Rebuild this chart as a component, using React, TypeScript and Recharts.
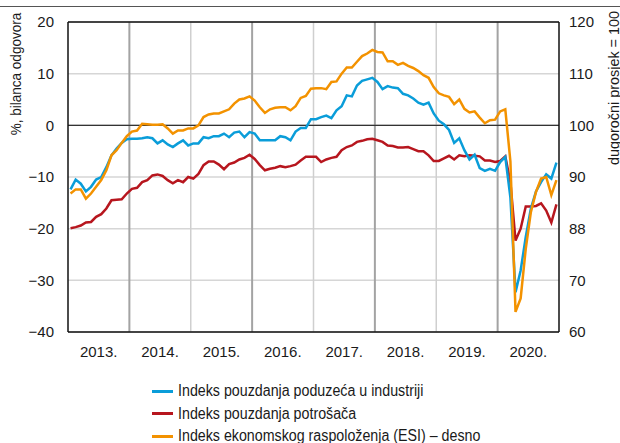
import { LineChart, Line, XAxis, YAxis, CartesianGrid, ReferenceLine } from 'recharts';

// monthly values, Jan 2013 - Dec 2020
const years = ['2013.', '2014.', '2015.', '2016.', '2017.', '2018.', '2019.', '2020.'];

const industry = [
  -12.4, -10.5, -11.3, -12.8, -11.9, -10.5, -10.0, -8.1, -5.8, -4.5, -3.4, -2.7,
  -2.6, -2.6, -2.5, -2.3, -2.5, -3.5, -2.9, -3.7, -4.2, -3.5, -2.9, -3.9,
  -3.5, -3.5, -2.3, -2.5, -2.1, -2.1, -1.6, -2.3, -1.4, -1.2, -2.3, -1.3,
  -1.6, -2.9, -2.9, -2.9, -2.9, -2.1, -2.3, -2.9, -1.2, -0.5, -0.5, 1.2,
  1.2, 1.6, 1.9, 1.4, 2.9, 3.7, 5.8, 5.6, 7.7, 8.6, 8.9, 9.2,
  8.4, 7.0, 7.6, 7.3, 7.2, 6.1, 5.8, 5.2, 4.4, 4.0, 4.4, 2.3,
  0.9, 0.2, -0.9, -3.4, -2.5, -4.8, -6.6, -5.7, -8.3, -8.8, -8.4, -8.8,
  -7.1, -6.1, -14.0, -32.3, -28.1, -21.6, -16.1, -12.8, -11.0, -9.5, -10.3, -7.2,
];

const consumers = [
  -19.9, -19.7, -19.4, -18.8, -18.7, -17.7, -17.2, -16.1, -14.5, -14.4, -14.3, -13.2,
  -12.3, -12.1, -11.0, -10.6, -9.7, -9.5, -9.8, -10.6, -11.2, -10.6, -11.0, -10.0,
  -10.3, -9.4, -7.7, -7.0, -7.0, -7.6, -8.5, -7.5, -7.2, -6.6, -6.3, -5.7,
  -6.5, -7.7, -8.7, -8.4, -8.2, -7.9, -8.1, -7.9, -7.6, -6.8, -6.1, -6.1,
  -6.1, -7.1, -6.6, -6.3, -6.1, -4.8, -4.2, -3.9, -3.2, -3.0, -2.7, -2.6,
  -2.9, -3.2, -3.9, -4.0, -4.3, -4.3, -4.2, -4.6, -5.0, -5.0, -5.8, -6.9,
  -6.9, -6.4, -5.9, -6.6, -5.8, -6.0, -5.8, -5.9, -6.0, -6.8, -6.8, -7.1,
  -6.9, -6.0, -11.0, -22.3, -20.0, -15.7, -15.7, -15.6, -15.1, -16.5, -18.8, -15.3,
];

// ESI, long-term average = 100 (right axis)
const esi = [
  86.8, 87.6, 87.6, 85.8, 86.8, 88.1, 89.4, 91.3, 94.2, 95.2, 96.6, 97.9,
  98.8, 99.0, 100.3, 100.2, 100.1, 100.1, 100.2, 99.4, 98.4, 99.0, 99.0, 99.4,
  99.4, 100.0, 101.6, 102.1, 102.3, 102.3, 102.7, 103.1, 104.2, 105.0, 105.2, 105.6,
  104.8, 103.5, 102.4, 103.1, 103.4, 103.5, 103.5, 102.9, 103.7, 105.3, 105.7, 107.1,
  107.2, 107.2, 107.0, 108.4, 108.5, 110.0, 111.2, 111.2, 112.3, 113.4, 113.9, 114.6,
  114.2, 114.1, 112.4, 112.4, 111.7, 112.1, 111.5, 111.1, 110.5, 109.7, 109.2, 107.4,
  106.2, 105.8, 105.5, 104.1, 105.0, 103.2, 102.5, 102.7, 101.5, 100.4, 101.0, 101.1,
  102.7, 103.1, 93.0, 63.9, 66.5, 76.1, 83.2, 87.1, 89.7, 90.0, 86.5, 89.4,
];

const leftTicks = [-40, -30, -20, -10, 0, 10, 20];
const rightTicks = [60, 70, 80, 90, 100, 110, 120];
const rightTickLabels = ['60', '70', '88', '90', '100', '110', '120'];

const legendItems = [
  { name: 'Indeks pouzdanja poduzeća u industriji', color: '#0a9dd9' },
  { name: 'Indeks pouzdanja potrošača', color: '#b7161e' },
  { name: 'Indeks ekonomskog raspoloženja (ESI) – desno', color: '#f39200' },
];

const data = industry.map((v, i) => ({
  x: i + 0.5,
  industry: v,
  consumers: consumers[i],
  esi: esi[i],
}));

const FONT = '"Liberation Sans", Arial, sans-serif';
const tickStyle = { fontSize: 15, fill: '#1a1a1a', fontFamily: FONT };
const minus = (v: number) => String(v).replace('-', '\u2212');

export default function App() {
  return (
    <div style={{ position: 'relative', width: 620, height: 443, overflow: 'hidden', background: '#fff', fontFamily: FONT }}>
      <style>{'body{margin:0}'}</style>
      <div style={{ position: 'absolute', left: 0, top: 6, width: 620, height: 0, borderTop: '1.3px solid #555' }} />

      <LineChart width={620} height={443} data={data} margin={{ top: 22, right: 0, bottom: 81, left: 0 }}>
        <CartesianGrid yAxisId="left" vertical={false} stroke="#d6d6d6" strokeWidth={1.5} />
        {years.slice(1).map((_, i) => (
          <ReferenceLine
            key={i}
            yAxisId="left"
            x={(i + 1) * 12}
            stroke={i % 2 === 0 ? '#a3a3a3' : '#cfcfcf'}
            strokeWidth={i % 2 === 0 ? 2 : 1.5}
          />
        ))}
        <ReferenceLine yAxisId="left" y={0} stroke="#333" strokeWidth={1.3} />
        <ReferenceLine yAxisId="left" y={20} stroke="#111" strokeWidth={1.5} />
        <XAxis
          type="number"
          dataKey="x"
          domain={[0, 96]}
          ticks={years.map((_, i) => i * 12 + 6)}
          tickFormatter={(v: number) => years[(v - 6) / 12]}
          tickLine={false}
          tickSize={0}
          tickMargin={14}
          height={30}
          axisLine={{ stroke: '#111', strokeWidth: 1.5 }}
          tick={tickStyle}
          interval={0}
        />
        <YAxis
          yAxisId="left"
          domain={[-40, 20]}
          ticks={leftTicks}
          tickFormatter={minus}
          width={68}
          tickLine={false}
          tickSize={0}
          tickMargin={14}
          axisLine={{ stroke: '#111', strokeWidth: 1.5 }}
          tick={tickStyle}
          interval={0}
        />
        <YAxis
          yAxisId="right"
          orientation="right"
          domain={[60, 120]}
          ticks={rightTicks}
          tickFormatter={(v: number) => rightTickLabels[rightTicks.indexOf(v)]}
          width={61}
          tickLine={false}
          tickSize={0}
          tickMargin={10}
          axisLine={{ stroke: '#111', strokeWidth: 1.5 }}
          tick={tickStyle}
          interval={0}
        />
        <Line yAxisId="left" dataKey="consumers" stroke="#b7161e" strokeWidth={2.5} dot={false} isAnimationActive={false} />
        <Line yAxisId="left" dataKey="industry" stroke="#0a9dd9" strokeWidth={2.5} dot={false} isAnimationActive={false} />
        <Line yAxisId="right" dataKey="esi" stroke="#f39200" strokeWidth={2.5} dot={false} isAnimationActive={false} />
      </LineChart>

      <div style={{ position: 'absolute', left: 15, top: 74, transform: 'translate(-50%, -50%) rotate(-90deg) scaleX(0.9)', whiteSpace: 'nowrap', fontSize: 15, color: '#1a1a1a' }}>
        %, bilanca odgovora
      </div>
      <div style={{ position: 'absolute', left: 613, top: 88, transform: 'translate(-50%, -50%) rotate(-90deg) scaleX(0.96)', whiteSpace: 'nowrap', fontSize: 15, color: '#1a1a1a' }}>
        dugoročni prosjek = 100
      </div>

      <div style={{ position: 'absolute', left: 152, top: 380 }}>
        {legendItems.map((item) => (
          <div key={item.name} style={{ display: 'flex', alignItems: 'center', height: 22.5, fontSize: 16, color: '#1a1a1a', whiteSpace: 'nowrap' }}>
            <span style={{ display: 'inline-block', width: 21, height: 3, background: item.color, marginRight: 5 }} />
            <span style={{ display: 'inline-block', transform: 'scaleX(0.89)', transformOrigin: 'left center' }}>{item.name}</span>
          </div>
        ))}
      </div>
    </div>
  );
}
